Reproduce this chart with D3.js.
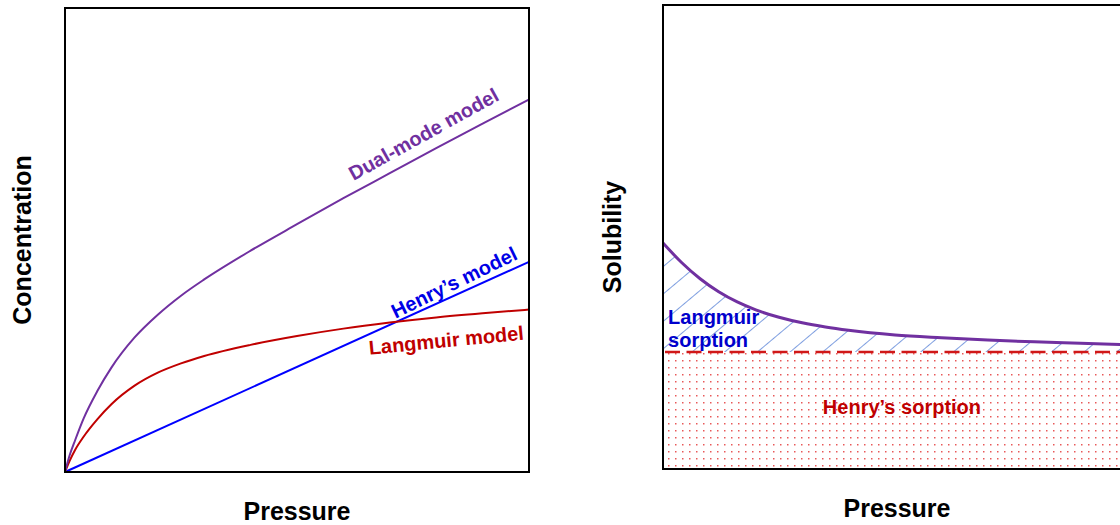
<!DOCTYPE html>
<html>
<head>
<meta charset="utf-8">
<script src="https://cdn.jsdelivr.net/npm/d3@7"></script>
<style>
  html, body { margin: 0; padding: 0; background: #fff; }
  svg { display: block; }
  text { font-family: "Liberation Sans", Arial, sans-serif; font-weight: bold; }
</style>
</head>
<body>
<svg width="1120" height="525"></svg>
<script>
// left panel: concentration vs pressure (0-100 units)
var pressureL = [0, 1, 2.2, 4, 7, 10, 15, 20, 25, 30, 40, 50, 60, 70, 80, 90, 100];
var dualMode  = [0, 3.6, 6.9, 11.5, 17.5, 22.5, 29, 33.9, 38, 41.5, 47.7, 53.4, 59, 64.4, 69.8, 75.1, 80.3];
var langmuir  = [0, 2.4, 4.8, 7.6, 11.4, 14.6, 18.6, 21.4, 23.4, 25.0, 27.4, 29.3, 30.9, 32.2, 33.3, 34.2, 35];
var henryP    = [0, 100];
var henry     = [0, 45.3];

// right panel: solubility vs pressure
var pressureR  = [0, 4, 8, 12, 16, 20, 25, 30, 35, 40, 50, 60, 70, 80, 90, 100];
var solubility = [48.7, 44.5, 41.0, 38.2, 36.0, 34.3, 32.7, 31.5, 30.6, 29.9, 28.9, 28.3, 27.8, 27.4, 27.1, 26.8];
var henryLevel = 25.2;

var purple = "#7030a0", blue = "#0000ff", red = "#c00000";

var svg = d3.select("svg");
var defs = svg.append("defs");

// hatch for the Langmuir region
defs.append("pattern")
    .attr("id", "hatch")
    .attr("patternUnits", "userSpaceOnUse")
    .attr("width", 10).attr("height", 21)
    .attr("patternTransform", "rotate(-40)")
  .append("line")
    .attr("x1", 0).attr("x2", 10).attr("y1", 0.5).attr("y2", 0.5)
    .attr("stroke", "#7f9fe0").attr("stroke-width", 1);

// dots for the Henry region
var dots = defs.append("pattern")
    .attr("id", "dots")
    .attr("patternUnits", "userSpaceOnUse")
    .attr("width", 7).attr("height", 7);
dots.append("rect").attr("x", 3).attr("y", 3).attr("width", 1.5).attr("height", 1.5)
    .attr("fill", "#e23030").attr("opacity", 0.8);

// ---------- left panel ----------
var xL = d3.scaleLinear().domain([0, 100]).range([65, 529]);
var yL = d3.scaleLinear().domain([0, 100]).range([472, 8]);
var gL = svg.append("g");

function series(xs, ys) {
  return xs.map(function(x, i) { return [x, ys[i]]; });
}

var lineL = d3.line()
    .x(function(d) { return xL(d[0]); })
    .y(function(d) { return yL(d[1]); })
    .curve(d3.curveMonotoneX);

gL.append("path").datum(series(henryP, henry))
    .attr("d", lineL).attr("fill", "none").attr("stroke", blue).attr("stroke-width", 2);
gL.append("path").datum(series(pressureL, langmuir))
    .attr("d", lineL).attr("fill", "none").attr("stroke", red).attr("stroke-width", 2);
gL.append("path").datum(series(pressureL, dualMode))
    .attr("d", lineL).attr("fill", "none").attr("stroke", purple).attr("stroke-width", 2);

gL.append("rect")
    .attr("x", xL(0)).attr("y", yL(100))
    .attr("width", xL(100) - xL(0)).attr("height", yL(0) - yL(100))
    .attr("fill", "none").attr("stroke", "#000").attr("stroke-width", 2);

function label(g, x, y, angle, txt, color) {
  g.append("text")
    .attr("transform", "translate(" + x + "," + y + ") rotate(" + angle + ")")
    .attr("text-anchor", "middle")
    .attr("font-size", "20px")
    .attr("fill", color)
    .text(txt);
}

label(gL, xL(78), yL(71.5), -29, "Dual-mode model", purple);
label(gL, xL(84.5), yL(39.5), -26, "Henry\u2019s model", "#0000e6");
label(gL, xL(82.3), yL(26.9), -5.5, "Langmuir model", red);

gL.append("text")
    .attr("transform", "translate(31," + yL(50) + ") rotate(-90)")
    .attr("text-anchor", "middle").attr("font-size", "25px").attr("fill", "#000")
    .text("Concentration");
gL.append("text")
    .attr("x", xL(50)).attr("y", 520)
    .attr("text-anchor", "middle").attr("font-size", "25px").attr("fill", "#000")
    .text("Pressure");

// ---------- right panel ----------
var xR = d3.scaleLinear().domain([0, 100]).range([663, 1127]);
var yR = d3.scaleLinear().domain([0, 100]).range([469, 5]);
var gR = svg.append("g");

var solData = series(pressureR, solubility);

// Henry's sorption: dotted block under the dashed line
gR.append("rect")
    .attr("x", xR(0)).attr("y", yR(henryLevel))
    .attr("width", xR(100) - xR(0)).attr("height", yR(0) - yR(henryLevel))
    .attr("fill", "url(#dots)");

// Langmuir sorption: hatched area between dashed line and curve
gR.append("path").datum(solData)
    .attr("d", d3.area()
      .x(function(d) { return xR(d[0]); })
      .y0(yR(henryLevel))
      .y1(function(d) { return yR(d[1]); })
      .curve(d3.curveMonotoneX))
    .attr("fill", "url(#hatch)");

gR.append("line")
    .attr("x1", xR(0) + 2).attr("x2", xR(100))
    .attr("y1", yR(henryLevel)).attr("y2", yR(henryLevel))
    .attr("stroke", "#d01818").attr("stroke-width", 2.5)
    .attr("stroke-dasharray", "15,6.5");

gR.append("path").datum(solData)
    .attr("d", d3.line()
      .x(function(d) { return xR(d[0]); })
      .y(function(d) { return yR(d[1]); })
      .curve(d3.curveMonotoneX))
    .attr("fill", "none").attr("stroke", purple).attr("stroke-width", 3);

gR.append("rect")
    .attr("x", xR(0)).attr("y", yR(100))
    .attr("width", xR(100) - xR(0)).attr("height", yR(0) - yR(100))
    .attr("fill", "none").attr("stroke", "#000").attr("stroke-width", 2);

var lt = gR.append("text")
    .attr("font-size", "20px").attr("fill", "#0000cc");
lt.append("tspan").attr("x", xR(1.1)).attr("y", yR(31.25)).text("Langmuir");
lt.append("tspan").attr("x", xR(1.1)).attr("y", yR(26.3)).text("sorption");

gR.append("text")
    .attr("x", xR(51.5)).attr("y", yR(11.85))
    .attr("text-anchor", "middle").attr("font-size", "20px").attr("fill", red)
    .text("Henry\u2019s sorption");

gR.append("text")
    .attr("transform", "translate(621," + yR(50) + ") rotate(-90)")
    .attr("text-anchor", "middle").attr("font-size", "25px").attr("fill", "#000")
    .text("Solubility");
gR.append("text")
    .attr("x", 897).attr("y", 517)
    .attr("text-anchor", "middle").attr("font-size", "25px").attr("fill", "#000")
    .text("Pressure");
</script>
</body>
</html>
